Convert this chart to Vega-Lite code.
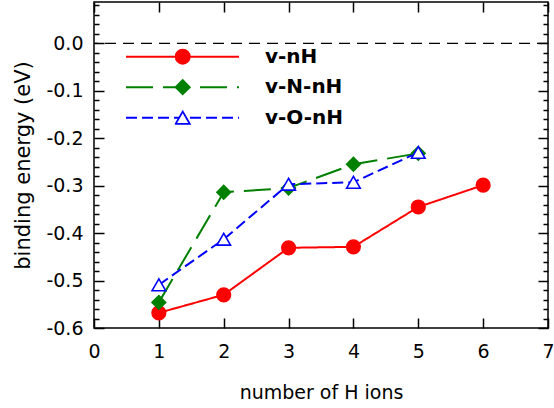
{
  "$schema": "https://vega.github.io/schema/vega-lite/v6.json",
  "width": 454,
  "height": 326,
  "autosize": {"type": "none"},
  "padding": {"left": 94, "top": 2, "right": 6, "bottom": 80},
  "background": "white",
  "data": {
    "values": [
      {"series": "v-nH", "n": 1, "energy": -0.568},
      {"series": "v-nH", "n": 2, "energy": -0.530},
      {"series": "v-nH", "n": 3, "energy": -0.431},
      {"series": "v-nH", "n": 4, "energy": -0.429},
      {"series": "v-nH", "n": 5, "energy": -0.345},
      {"series": "v-nH", "n": 6, "energy": -0.299},
      {"series": "v-N-nH", "n": 1, "energy": -0.546},
      {"series": "v-N-nH", "n": 2, "energy": -0.314},
      {"series": "v-N-nH", "n": 3, "energy": -0.305},
      {"series": "v-N-nH", "n": 4, "energy": -0.255},
      {"series": "v-N-nH", "n": 5, "energy": -0.232},
      {"series": "v-O-nH", "n": 1, "energy": -0.509},
      {"series": "v-O-nH", "n": 2, "energy": -0.413},
      {"series": "v-O-nH", "n": 3, "energy": -0.297},
      {"series": "v-O-nH", "n": 4, "energy": -0.293},
      {"series": "v-O-nH", "n": 5, "energy": -0.230}
    ]
  },
  "layer": [
    {
      "data": {"values": [{}]},
      "mark": {"type": "rule", "strokeDash": [11, 7], "color": "black", "strokeWidth": 1.3},
      "encoding": {
        "y": {
          "datum": 0,
          "type": "quantitative",
          "scale": {"domain": [-0.6, 0.087], "nice": false, "zero": false},
          "axis": {
            "orient": "left",
            "values": [-0.58, -0.56, -0.54, -0.52, -0.48, -0.46, -0.44, -0.42, -0.38, -0.36, -0.34, -0.32, -0.28, -0.26, -0.24, -0.22, -0.18, -0.16, -0.14, -0.12, -0.08, -0.06, -0.04, -0.02, 0.02, 0.04, 0.06, 0.08],
            "tickSize": -5,
            "labels": false,
            "title": null
          }
        }
      }
    },
    {
      "mark": {"type": "line", "strokeWidth": 2},
      "encoding": {
        "x": {
          "field": "n",
          "type": "quantitative",
          "scale": {"domain": [0, 7], "nice": false, "zero": false},
          "axis": {
            "orient": "bottom",
            "values": [0, 1, 2, 3, 4, 5, 6, 7],
            "tickSize": -10,
            "labelPadding": 24,
            "title": "number of H ions",
            "titleFontSize": 19,
            "titlePadding": 22
          }
        },
        "y": {
          "field": "energy",
          "type": "quantitative",
          "axis": {
            "orient": "left",
            "values": [-0.6, -0.5, -0.4, -0.3, -0.2, -0.1, 0],
            "tickSize": -10,
            "labelPadding": 21,
            "labelExpr": "replace(format(datum.value, '.1f'), '\u2212', '-')",
            "title": "binding energy (eV)",
            "titleFontSize": 21,
            "titlePadding": 12
          }
        },
        "color": {
          "field": "series",
          "type": "nominal",
          "scale": {"domain": ["v-nH", "v-N-nH", "v-O-nH"], "range": ["#ff0000", "#008000", "#0000ff"]},
          "legend": {
            "orient": "none", "legendX": 31, "legendY": 40.2, "title": null, "padding": 0,
            "symbolType": "stroke", "symbolSize": 12769, "symbolStrokeWidth": 2,
            "clipHeight": 29, "rowPadding": 1.5,
            "labelFont": "DejaVu Sans", "labelFontWeight": "bold", "labelFontSize": 20,
            "labelOffset": 25, "labelColor": "black"
          }
        },
        "strokeDash": {
          "field": "series",
          "type": "nominal",
          "scale": {"domain": ["v-nH", "v-N-nH", "v-O-nH"], "range": [[1, 0], [27, 10], [11, 5]]},
          "legend": {
            "orient": "none", "legendX": 31, "legendY": 40.2, "title": null, "padding": 0,
            "symbolType": "stroke", "symbolSize": 12769, "symbolStrokeWidth": 2,
            "clipHeight": 29, "rowPadding": 1.5,
            "labelFont": "DejaVu Sans", "labelFontWeight": "bold", "labelFontSize": 20,
            "labelOffset": 25, "labelColor": "black"
          }
        }
      }
    },
    {
      "mark": {"type": "point", "filled": true, "size": 185, "opacity": 1, "strokeWidth": 1.6},
      "encoding": {
        "x": {
          "field": "n",
          "type": "quantitative",
          "axis": {"orient": "top", "values": [0, 1, 2, 3, 4, 5, 6, 7], "tickSize": -10, "labels": false, "title": null}
        },
        "y": {
          "field": "energy",
          "type": "quantitative",
          "axis": {"orient": "right", "values": [-0.6, -0.5, -0.4, -0.3, -0.2, -0.1, 0], "tickSize": -10, "labels": false, "title": null}
        },
        "shape": {
          "field": "series",
          "type": "nominal",
          "scale": {"domain": ["v-nH", "v-N-nH", "v-O-nH"], "range": ["circle", "diamond", "triangle-up"]},
          "legend": {
            "orient": "none", "legendX": 80.7, "legendY": 40.2, "title": null, "padding": 0,
            "symbolSize": 200, "symbolStrokeWidth": 1.8, "clipHeight": 29, "rowPadding": 1.5,
            "labelExpr": "''"
          }
        },
        "fill": {
          "field": "series",
          "type": "nominal",
          "scale": {"domain": ["v-nH", "v-N-nH", "v-O-nH"], "range": ["#ff0000", "#008000", "#ffffff"]},
          "legend": {
            "orient": "none", "legendX": 80.7, "legendY": 40.2, "title": null, "padding": 0,
            "symbolSize": 200, "symbolStrokeWidth": 1.8, "clipHeight": 29, "rowPadding": 1.5,
            "labelExpr": "''"
          }
        },
        "stroke": {
          "field": "series",
          "type": "nominal",
          "scale": {"domain": ["v-nH", "v-N-nH", "v-O-nH"], "range": ["#ff0000", "#008000", "#0000ff"]},
          "legend": {
            "orient": "none", "legendX": 80.7, "legendY": 40.2, "title": null, "padding": 0,
            "symbolSize": 200, "symbolStrokeWidth": 1.8, "clipHeight": 29, "rowPadding": 1.5,
            "labelExpr": "''"
          }
        }
      }
    },
    {
      "data": {"values": [{}]},
      "mark": {"type": "rule", "strokeOpacity": 0},
      "encoding": {
        "y": {
          "datum": 0,
          "type": "quantitative",
          "axis": {
            "orient": "right",
            "values": [-0.58, -0.56, -0.54, -0.52, -0.48, -0.46, -0.44, -0.42, -0.38, -0.36, -0.34, -0.32, -0.28, -0.26, -0.24, -0.22, -0.18, -0.16, -0.14, -0.12, -0.08, -0.06, -0.04, -0.02, 0.02, 0.04, 0.06, 0.08],
            "tickSize": -5,
            "labels": false,
            "title": null
          }
        }
      }
    }
  ],
  "resolve": {
    "axis": {"x": "independent", "y": "independent"},
    "legend": {"color": "independent", "strokeDash": "independent", "shape": "independent", "fill": "independent", "stroke": "independent"}
  },
  "config": {
    "view": {"stroke": "black", "strokeWidth": 1.5},
    "axis": {
      "domain": false,
      "grid": false,
      "tickColor": "black",
      "tickWidth": 1.5,
      "labelColor": "black",
      "titleColor": "black",
      "labelFont": "DejaVu Sans",
      "labelFontSize": 19,
      "titleFont": "DejaVu Sans",
      "titleFontWeight": "normal",
      "labelFlush": false,
      "labelOverlap": false
    }
  }
}
